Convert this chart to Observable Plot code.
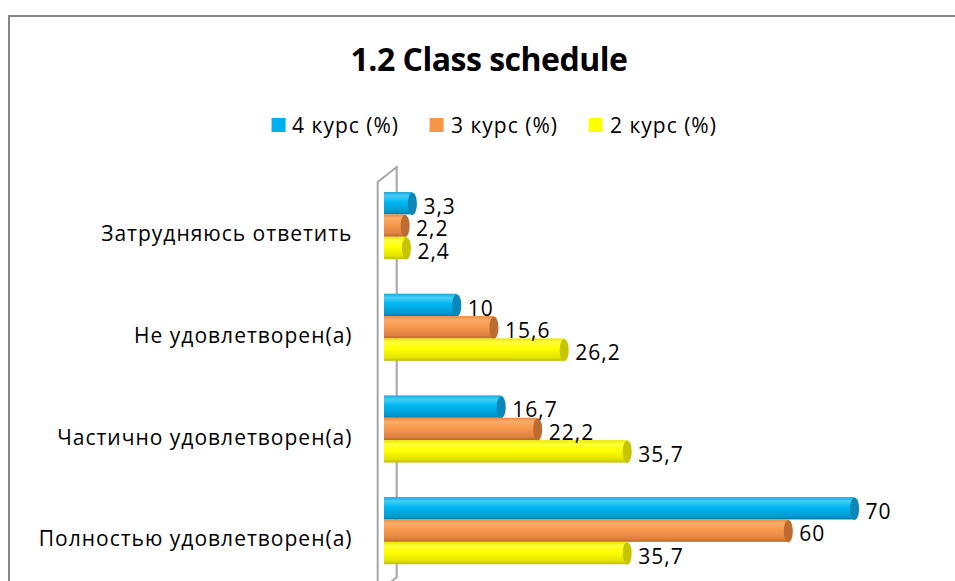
<!DOCTYPE html>
<html>
<head>
<meta charset="utf-8">
<script src="https://cdn.jsdelivr.net/npm/d3@7"></script>
<script src="https://cdn.jsdelivr.net/npm/@observablehq/plot@0.6"></script>
<style>
  html, body { margin: 0; padding: 0; background: #fff; overflow: hidden; width: 955px; height: 581px; }
  #frame { position: absolute; left: 8px; top: 15px; width: 1000px; height: 700px; border-left: 2px solid #878787; border-top: 2px solid #878787; box-sizing: border-box; }
  #title { position: absolute; left: 489px; top: 37px; transform: translateX(-50%); white-space: nowrap; font-family: "Open Sans", sans-serif; font-weight: bold; font-size: 32px; letter-spacing: -0.5px; color: #000; }
  #legend { position: absolute; left: 494px; top: 111px; transform: translateX(-50%); display: flex; white-space: nowrap; font-family: "Open Sans", sans-serif; font-size: 21px; letter-spacing: 1px; color: #000; }
  .item { display: flex; align-items: center; margin: 0 15.5px; }
  .sw { width: 14px; height: 14px; margin-right: 7px; }
  #chart { position: absolute; left: 0; top: 0; }
</style>
</head>
<body>
<div id="frame"></div>
<div id="title">1.2 Class schedule</div>
<div id="legend"></div>
<div id="chart"></div>
<svg width="0" height="0" style="position:absolute">
  <defs>
    <linearGradient id="g4" x1="0" y1="0" x2="0" y2="1">
      <stop offset="0" stop-color="#1FA9DA"/>
      <stop offset="0.18" stop-color="#45CCF7"/>
      <stop offset="0.45" stop-color="#00B7F2"/>
      <stop offset="0.85" stop-color="#009AD2"/>
      <stop offset="1" stop-color="#007DAD"/>
    </linearGradient>
    <linearGradient id="g3" x1="0" y1="0" x2="0" y2="1">
      <stop offset="0" stop-color="#E58C48"/>
      <stop offset="0.18" stop-color="#FBAC66"/>
      <stop offset="0.45" stop-color="#F89A4E"/>
      <stop offset="0.85" stop-color="#DF823F"/>
      <stop offset="1" stop-color="#B9662C"/>
    </linearGradient>
    <linearGradient id="g2" x1="0" y1="0" x2="0" y2="1">
      <stop offset="0" stop-color="#E6E600"/>
      <stop offset="0.18" stop-color="#FFFF3A"/>
      <stop offset="0.45" stop-color="#FFFF00"/>
      <stop offset="0.85" stop-color="#E4E400"/>
      <stop offset="1" stop-color="#BDBD00"/>
    </linearGradient>
  </defs>
</svg>
<script>
const categories = ["Затрудняюсь ответить", "Не удовлетворен(а)", "Частично удовлетворен(а)", "Полностью удовлетворен(а)"];
const series = ["4 курс (%)", "3 курс (%)", "2 курс (%)"];
const course4 = [3.3, 10, 16.7, 70];
const course3 = [2.2, 15.6, 22.2, 60];
const course2 = [2.4, 26.2, 35.7, 35.7];
const swatchColors = ["#00B0F0", "#F79646", "#FFFF00"];
const gradients = ["url(#g4)", "url(#g3)", "url(#g2)"];
const capColors = ["#0A86B8", "#BE6B30", "#C4C400"];

const seriesValues = [course4, course3, course2];
const rows = [];
categories.forEach((c, i) => series.forEach((s, j) => rows.push({category: c, series: s, value: seriesValues[j][i]})));

const fmt = v => String(v).replace(".", ",");

// elliptical symbol for cylinder caps
const ellipse = {
  draw(ctx, size) {
    const ry = Math.sqrt(size / Math.PI), rx = ry * 0.4, k = 0.5523;
    ctx.moveTo(0, -ry);
    ctx.bezierCurveTo(rx * k, -ry, rx, -ry * k, rx, 0);
    ctx.bezierCurveTo(rx, ry * k, rx * k, ry, 0, ry);
    ctx.bezierCurveTo(-rx * k, ry, -rx, ry * k, -rx, 0);
    ctx.bezierCurveTo(-rx, -ry * k, -rx * k, -ry, 0, -ry);
    ctx.closePath();
  }
};

const FONT = "'Open Sans', sans-serif";
const marks = [];
series.forEach((s, j) => {
  const sub = rows.filter(d => d.series === s);
  marks.push(Plot.barX(sub, {x: "value", y: "series", fy: "category", fill: gradients[j], insetLeft: -6}));
  marks.push(Plot.dot(sub, {x: "value", y: "series", fy: "category", symbol: ellipse, r: 11.2, fill: capColors[j]}));
});
marks.push(Plot.text(rows, {x: "value", y: "series", fy: "category", text: d => fmt(d.value), textAnchor: "start", dx: 11, dy: 3.5, fontSize: 21, fill: "#000"}));
if (typeof Plot.axisFy === "function") {
  marks.push(Plot.axisFy({anchor: "left", tickSize: 0, tickPadding: 38, dy: 8.5, label: null, fontSize: 21, fill: "#000"}));
}

const plot = Plot.plot({
  width: 955,
  height: 620,
  marginLeft: 390,
  marginRight: 34.6,
  marginTop: 174.7,
  marginBottom: 38.5,
  style: {fontFamily: FONT, fontSize: "21px", letterSpacing: "1px", color: "#000", background: "transparent"},
  x: {domain: [0, 80], axis: null},
  y: {domain: series, padding: 0, axis: null, round: false},
  fy: {domain: categories, paddingInner: 0.34, paddingOuter: 0.17, round: false, label: null, tickSize: 0, tickPadding: 38},
  marks
});
document.getElementById("chart").appendChild(plot);

// 3D wall behind bars, placed with the plot's own scales
const xs = plot.scale("x"), fys = plot.scale("fy");
const x0 = xs.apply(0);
const wallTop = fys.apply(categories[0]);
const wallBottom = fys.apply(categories[categories.length - 1]) + fys.bandwidth;
const L = x0 - 12.3, R = x0 + 6.7;
const svgNode = plot.tagName.toLowerCase() === "svg" ? plot : plot.querySelector("svg");
const svg = d3.select(svgNode);
const firstG = svgNode.querySelector("g");
const wall = svg.insert("g", () => firstG).attr("fill", "none").attr("stroke", "#A6A6A6").attr("stroke-width", 2);
wall.append("path").attr("d", `M${L},${wallBottom + 30}L${L},${wallTop - 10}L${R},${wallTop - 25}L${R},${wallBottom + 13}L${L},${wallBottom + 28}`);

// legend
const legend = document.getElementById("legend");
series.forEach((s, j) => {
  const it = document.createElement("div"); it.className = "item";
  const sw = document.createElement("div"); sw.className = "sw"; sw.style.background = swatchColors[j];
  const tx = document.createElement("span"); tx.textContent = s;
  it.appendChild(sw); it.appendChild(tx); legend.appendChild(it);
});
</script>
</body>
</html>
